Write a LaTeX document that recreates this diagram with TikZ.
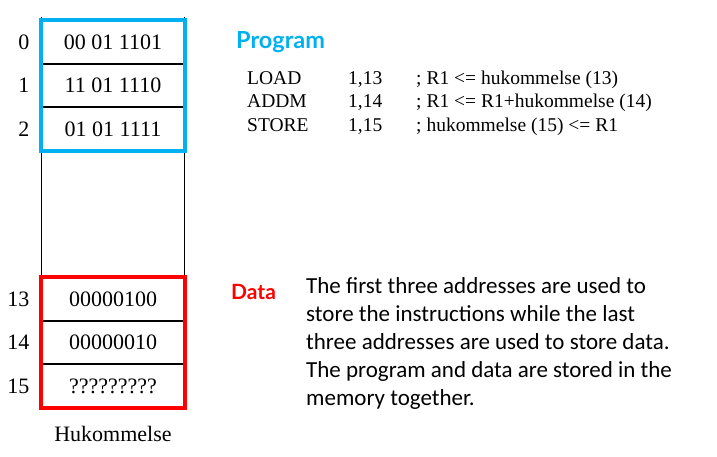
\documentclass[tikz,border=0pt]{standalone}
\usepackage{fontspec}
\setmainfont{Liberation Serif}
\newfontfamily\calibri{Carlito}
\newfontfamily\latofont{Lato}
\usepackage{xcolor}
\definecolor{progblue}{HTML}{00B0F0}
\definecolor{datared}{HTML}{FF0000}
\usetikzlibrary{positioning}

\begin{document}
\begin{tikzpicture}[x=1pt,y=-1pt,
  cell/.style={draw=black, line width=1.1pt, minimum width=142pt, minimum height=42.33pt,
    inner sep=0pt, font=\fontsize{22}{24}\selectfont},
  addr/.style={inner sep=0pt, left=12pt of #1, font=\fontsize{22}{24}\selectfont},
  lst/.style={inner sep=0pt, anchor=base west, font=\fontsize{19.5}{22}\selectfont},
  tag/.style={inner sep=0pt, anchor=base west, font=\latofont\bfseries\fontsize{#1}{24}\selectfont}]
  \useasboundingbox (0,0) rectangle (717,456);
  % memory column
  \node[cell] (m0) at (113,42.2) {00 01 1101};
  \node[cell, below=0pt of m0] (m1) {11 01 1110};
  \node[cell, below=0pt of m1] (m2) {01 01 1111};
  \node[cell] (m13) at (113,299.2) {00000100};
  \node[cell, below=0pt of m13] (m14) {00000010};
  \node[cell, below=0pt of m14] (m15) {?????????};
  \draw[line width=1.3pt] (m0.north west) ++(0,-3) -- (m0.north west)
    (m0.north east) ++(0,-3) -- (m0.north east)
    (m2.south west) -- (m13.north west) (m2.south east) -- (m13.north east);
  \node[addr=m0] (a0) {0};
  \node[addr=m1] (a1) {1};
  \node[addr=m2] (a2) {2};
  \node[addr=m13] (a13) {13};
  \node[addr=m14] (a14) {14};
  \node[addr=m15] (a15) {15};
  \node[inner sep=0pt, below=18pt of m15, font=\fontsize{22}{24}\selectfont] (mem) {Hukommelse};
  % highlights
  \draw[progblue, line width=4pt] (m0.north west) rectangle (m2.south east);
  \draw[datared, line width=4pt] (m13.north west) rectangle (m15.south east);
  % program
  \node[tag=23.5, text=progblue] (prog) at (236,48) {Program};
  \node[lst] (op1) at (247,84) {LOAD};
  \node[lst] (op2) at (247,107.5) {ADDM};
  \node[lst] (op3) at (247,131) {STORE};
  \node[lst] (ar1) at (348,84) {1,13};
  \node[lst] (ar2) at (348,107.5) {1,14};
  \node[lst] (ar3) at (348,131) {1,15};
  \node[lst] (cm1) at (416,84) {; R1 <= hukommelse (13)};
  \node[lst] (cm2) at (416,107.5) {; R1 <= R1+hukommelse (14)};
  \node[lst] (cm3) at (416,131) {; hukommelse (15) <= R1};
  % data
  \node[tag=21, text=datared] (data) at (231,299.5) {Data};
  \node[inner sep=0pt, anchor=north west, align=left, font=\calibri\fontsize{23}{28}\selectfont] (note) at (306,277)
    {The first three addresses are used to\\ store the instructions while the last\\
     three addresses are used to store data.\\ The program and data are stored in the\\ memory together.};
\end{tikzpicture}
\end{document}
